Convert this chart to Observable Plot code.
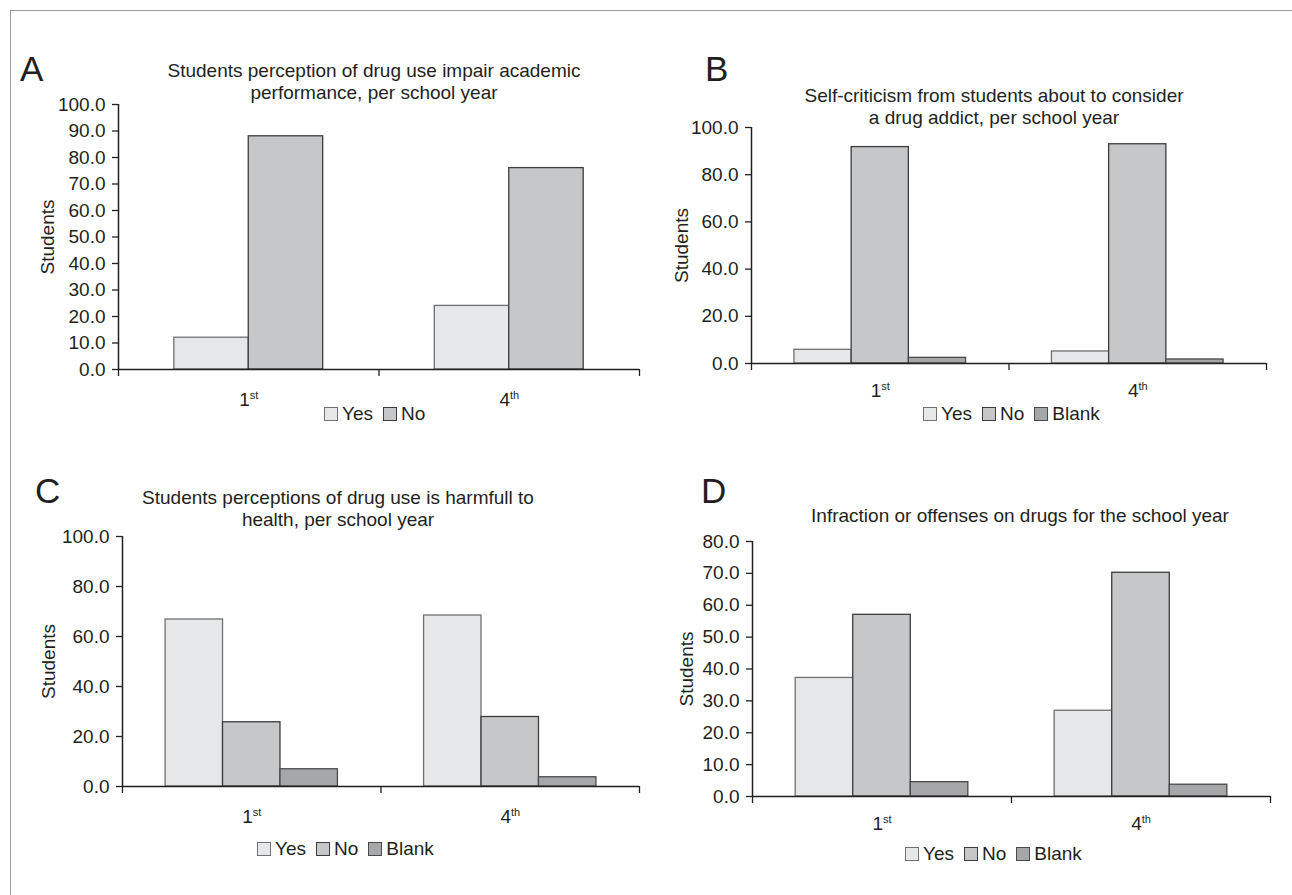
<!DOCTYPE html>
<html><head><meta charset="utf-8">
<script src="https://cdn.jsdelivr.net/npm/d3@7"></script>
<script src="https://cdn.jsdelivr.net/npm/@observablehq/plot@0.6"></script>
<style>
body{margin:0;background:#fff;}
#page{position:relative;width:1292px;height:895px;overflow:hidden;background:#fff;font-family:"Liberation Sans",Arial,Helvetica,sans-serif;color:#231f20;}
#page svg{position:absolute;max-width:none;}
.title{position:absolute;width:640px;text-align:center;font-size:19px;line-height:22px;white-space:nowrap;}
.letter{position:absolute;font-size:35px;line-height:32px;}
.legend{position:absolute;display:flex;align-items:center;font-size:19px;height:22px;white-space:nowrap;}
.legend .box{width:14px;height:14px;box-sizing:border-box;border:1.5px solid #555;margin-right:4px;}
.legend .lab{margin-right:10px;}
.frameTop{position:absolute;left:10px;top:10px;width:1282px;height:0;border-top:1.5px solid #9a9a9a;}
.frameLeft{position:absolute;left:10px;top:10px;width:0;height:885px;border-left:1.5px solid #9a9a9a;}
</style>
</head><body>
<div id="page"><div class="frameTop"></div><div class="frameLeft"></div></div>
<script>
// ---- data ----
const years = ["1st", "4th"];
const answers2 = ["Yes", "No"];
const answers3 = ["Yes", "No", "Blank"];
const fills = {Yes: "#e6e7e8", No: "#c6c7c9", Blank: "#a6a7a9"};
const strokes = {Yes: "#707070", No: "#3c3c3c", Blank: "#4a4a4a"};

const impair1st = [12.0, 88.0];
const impair4th = [24.0, 76.0];
const addict1st = [5.8, 91.7, 2.4];
const addict4th = [5.1, 92.9, 1.7];
const harm1st = [66.8, 25.7, 6.9];
const harm4th = [68.4, 27.8, 3.7];
const offense1st = [37.2, 57.0, 4.5];
const offense4th = [26.9, 70.2, 3.7];

const ticks100by10 = [0, 10, 20, 30, 40, 50, 60, 70, 80, 90, 100];
const ticks100by20 = [0, 20, 40, 60, 80, 100];
const ticks80by10 = [0, 10, 20, 30, 40, 50, 60, 70, 80];

const titleA = ["Students perception of drug use impair academic", "performance, per school year"];
const titleB = ["Self-criticism from students about to consider", "a drug addict, per school year"];
const titleC = ["Students perceptions of drug use is harmfull to", "health, per school year"];
const titleD = ["Infraction or offenses on drugs for the school year"];
const yLabel = "Students";

// ---- layout ----
const panels = [
  {letter: "A", title: titleA, answers: answers2, values: [impair1st, impair4th], yMax: 100, yTicks: ticks100by10,
   axisL: 118, axisR: 639, yTop: 104, y0: 369, titleCx: 374, titleTop: 60, letterX: 20, letterTop: 53,
   yLabelCx: 47, xPad: 23, legendX: 324, legendBoxTop: 407},
  {letter: "B", title: titleB, answers: answers3, values: [addict1st, addict4th], yMax: 100, yTicks: ticks100by20,
   axisL: 751, axisR: 1266, yTop: 127, y0: 363, titleCx: 994, titleTop: 85, letterX: 705, letterTop: 53,
   yLabelCx: 681, xPad: 20, legendX: 923, legendBoxTop: 407},
  {letter: "C", title: titleC, answers: answers3, values: [harm1st, harm4th], yMax: 100, yTicks: ticks100by20,
   axisL: 122, axisR: 639, yTop: 536, y0: 786, titleCx: 338, titleTop: 487, letterX: 35, letterTop: 475,
   yLabelCx: 48, xPad: 23, legendX: 257, legendBoxTop: 842},
  {letter: "D", title: titleD, answers: answers3, values: [offense1st, offense4th], yMax: 80, yTicks: ticks80by10,
   axisL: 752, axisR: 1270, yTop: 541, y0: 796, titleCx: 1020, titleTop: 505, letterX: 701, letterTop: 475,
   yLabelCx: 686, xPad: 20, legendX: 905, legendBoxTop: 847}
];

const page = document.getElementById("page");
const INK = "#231f20";

for (const p of panels) {
  const n = p.answers.length;
  const w = 1 / (n + 1.5); // gap width 150%
  const rows = [];
  years.forEach((yr, gi) => {
    p.answers.forEach((ans, si) => {
      const x1 = gi + 0.75 * w + si * w;
      rows.push({year: yr, answer: ans, value: p.values[gi][si], x1, x2: x1 + w});
    });
  });

  const mL = 110, mR = 8, mT = 20, mB = 60;
  const svgLeft = p.axisL - mL;
  const svgTop = p.yTop - mT;
  const svgW = p.axisR - p.axisL + mL + mR;
  const svgH = p.y0 - p.yTop + mT + mB;

  const svg = Plot.plot({
    width: svgW, height: svgH,
    marginLeft: mL, marginRight: mR, marginTop: mT, marginBottom: mB,
    style: {fontFamily: '"Liberation Sans", Arial, Helvetica, sans-serif', fontSize: "19px", color: INK, background: "transparent", overflow: "visible"},
    x: {type: "linear", domain: [0, years.length], axis: null},
    y: {domain: [0, p.yMax], axis: null},
    color: {type: "identity"},
    marks: [
      Plot.rect(rows, {x1: "x1", x2: "x2", y1: 0, y2: "value", fill: d => fills[d.answer], stroke: d => strokes[d.answer], strokeWidth: 1.3}),
      Plot.axisY({ticks: p.yTicks, tickSize: 6, tickPadding: 7, tickFormat: d3.format(".1f"), strokeWidth: 1.3, label: null, fontSize: 19}),
      Plot.axisX({ticks: d3.range(years.length + 1), tickSize: 7, tickFormat: () => "", strokeWidth: 1.3, label: null}),
      Plot.axisX({ticks: years.map((_, i) => i + 0.5), tickSize: 0, tickPadding: p.xPad, tickFormat: d => years[Math.floor(d)], label: null, fontSize: 19}),
      Plot.ruleX([0], {stroke: INK, strokeWidth: 1.5}),
      Plot.ruleY([0], {stroke: INK, strokeWidth: 1.5}),
      Plot.text([yLabel], {frameAnchor: "left", rotate: -90, textAnchor: "middle", dx: p.yLabelCx - p.axisL, fontSize: 19, fill: INK})
    ]
  });
  svg.style.left = svgLeft + "px";
  svg.style.top = svgTop + "px";
  // superscript ordinals
  svg.querySelectorAll("text").forEach(t => {
    if (t.children.length) return;
    const m = t.textContent.match(/^(\d+)(st|nd|rd|th)$/);
    if (!m) return;
    t.textContent = m[1];
    const ts = document.createElementNS("http://www.w3.org/2000/svg", "tspan");
    ts.setAttribute("font-size", "11");
    ts.setAttribute("dy", "-7");
    ts.textContent = m[2];
    t.appendChild(ts);
  });
  page.appendChild(svg);

  const title = document.createElement("div");
  title.className = "title";
  title.style.left = (p.titleCx - 320) + "px";
  title.style.top = p.titleTop + "px";
  title.innerHTML = p.title.join("<br>");
  page.appendChild(title);

  const letter = document.createElement("div");
  letter.className = "letter";
  letter.style.left = p.letterX + "px";
  letter.style.top = p.letterTop + "px";
  letter.textContent = p.letter;
  page.appendChild(letter);

  const leg = document.createElement("div");
  leg.className = "legend";
  leg.style.left = p.legendX + "px";
  leg.style.top = (p.legendBoxTop - 4) + "px";
  p.answers.forEach(a => {
    const b = document.createElement("span");
    b.className = "box";
    b.style.background = fills[a];
    b.style.borderColor = strokes[a];
    const l = document.createElement("span");
    l.className = "lab";
    l.textContent = a;
    leg.appendChild(b); leg.appendChild(l);
  });
  page.appendChild(leg);
}
</script>
</body></html>
